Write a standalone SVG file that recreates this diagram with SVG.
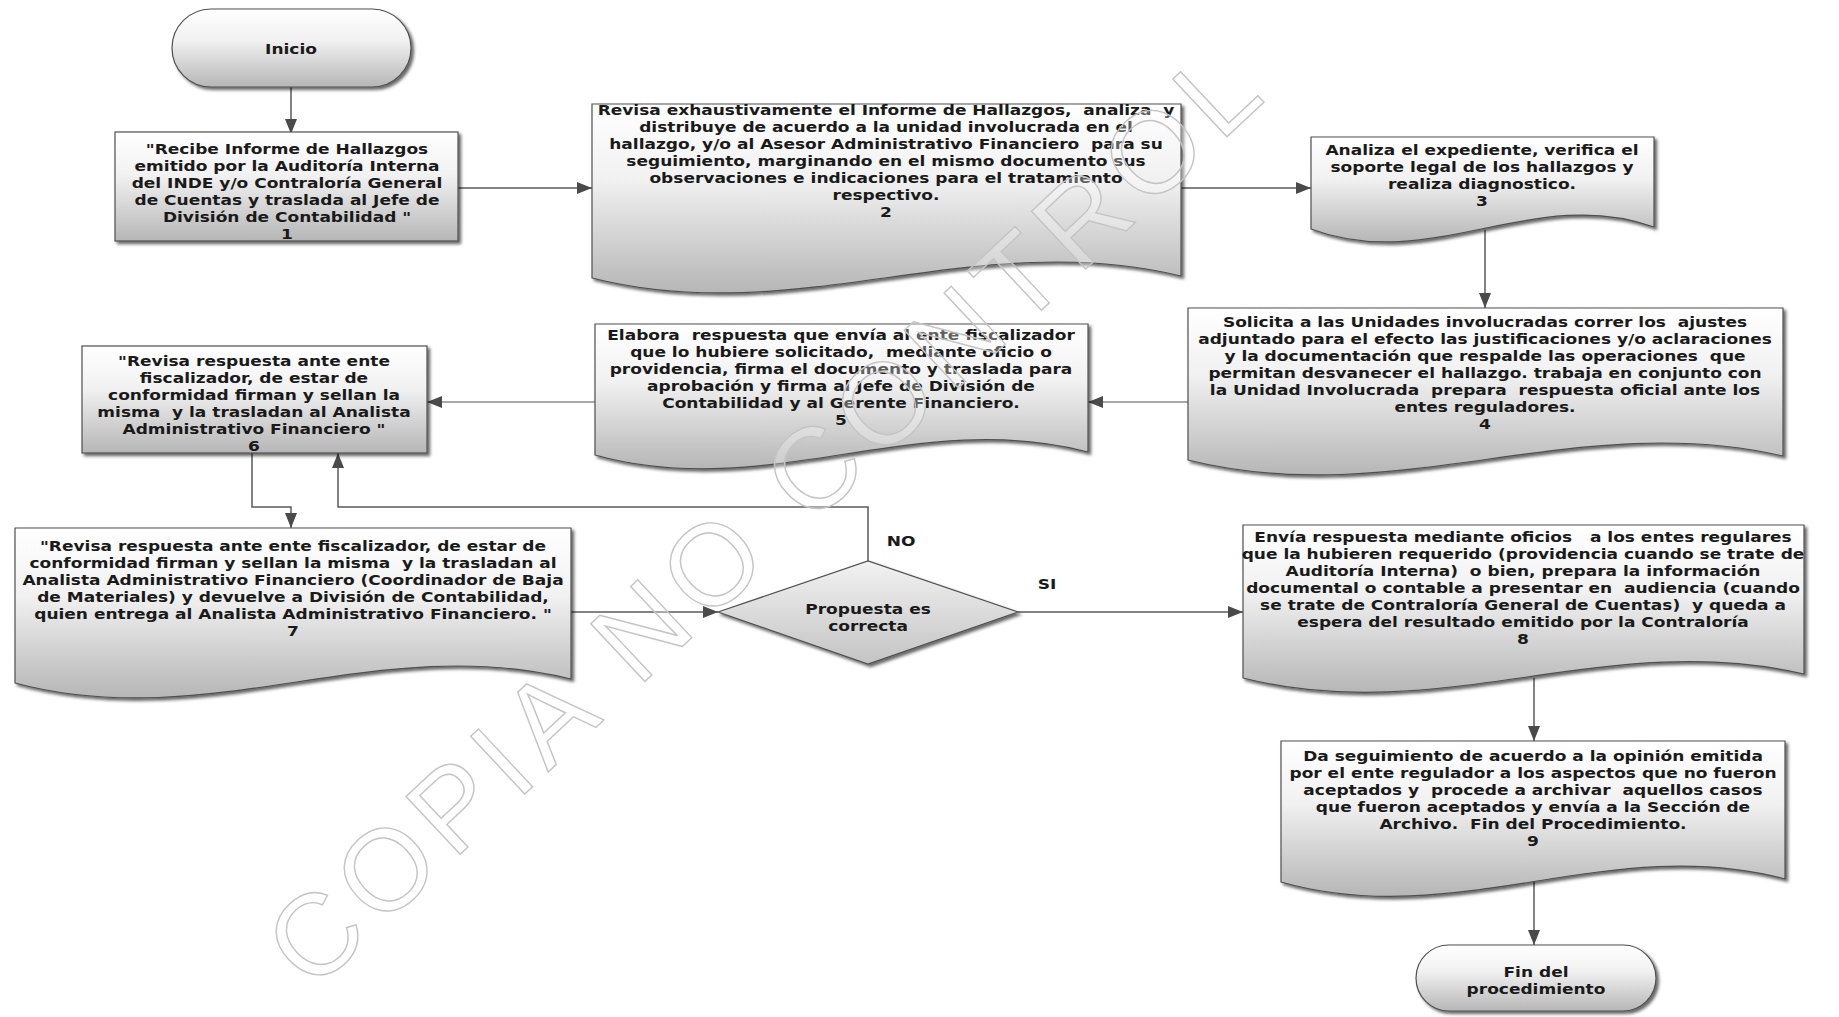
<svg xmlns="http://www.w3.org/2000/svg" width="1839" height="1017" viewBox="0 0 1839 1017">
  <defs>
    <linearGradient id="gBox" x1="0" y1="0" x2="0" y2="1">
      <stop offset="0" stop-color="#ffffff"/>
      <stop offset="0.4" stop-color="#f1f1f1"/>
      <stop offset="1" stop-color="#b6b6b6"/>
    </linearGradient>
    <linearGradient id="gDiamond" x1="0" y1="0" x2="0" y2="1">
      <stop offset="0" stop-color="#f2f2f2"/>
      <stop offset="1" stop-color="#c4c4c4"/>
    </linearGradient>
    <filter id="shadow" x="-5%" y="-5%" width="115%" height="125%">
      <feDropShadow dx="2.5" dy="2.5" stdDeviation="1.4" flood-color="#000" flood-opacity="0.6"/>
    </filter>
    <marker id="arrow" viewBox="0 0 15 12" refX="15" refY="6" markerWidth="15" markerHeight="12" markerUnits="userSpaceOnUse" orient="auto">
      <path d="M0,0 L15,6 L0,12 Z" fill="#4a4a4a"/>
    </marker>
    <style>
      .shape { fill: url(#gBox); stroke: #505050; stroke-width: 1.2; filter: url(#shadow); }
      .diamond { fill: url(#gDiamond); stroke: #505050; stroke-width: 1.2; filter: url(#shadow); }
      .t { font-family: "DejaVu Sans", "Open Sans", sans-serif; font-weight: 700; font-size: 14.3px; fill: #1a1a1a; text-anchor: middle; white-space: pre; }
      .conn { fill: none; stroke: #5a5a5a; stroke-width: 1.5; marker-end: url(#arrow); }
      .conn.light { stroke: #8c8c8c; stroke-width: 1.3; }
      .wm { font-family: "Liberation Sans", Arial, sans-serif; font-size: 115px; letter-spacing: 10.5px; fill: #ffffff; fill-opacity: 0.3; stroke: #c4c4c4; stroke-width: 1.4; }
    </style>
  </defs>

  <!-- connectors -->
  <g id="connectors">
    <path class="conn" d="M291,87 V134"/>
    <path class="conn" d="M458,188 H592"/>
    <path class="conn" d="M1181,188 H1311"/>
    <path class="conn" d="M1485,230 V308"/>
    <path class="conn light" d="M1188,402 H1088"/>
    <path class="conn light" d="M595,402 H427"/>
    <path class="conn" d="M252,453 V507 H291 V528"/>
    <path class="conn" d="M571,612 H718"/>
    <path class="conn" d="M868,561 V507 H338 V453"/>
    <path class="conn" d="M1018,612 H1243"/>
    <path class="conn" d="M1534,678 V741"/>
    <path class="conn" d="M1534,882 V945"/>
    <text class="t" transform="matrix(1.19 0 0 1 901 0)"><tspan x="0" y="546">NO</tspan></text>
    <text class="t" transform="matrix(1.19 0 0 1 1047 0)"><tspan x="0" y="589">SI</tspan></text>
  </g>

  <!-- start terminator -->
  <g id="inicio">
    <rect class="shape" x="172" y="9" width="239" height="78" rx="39" ry="39"/>
    <text class="t" transform="matrix(1.19 0 0 1 291 0)"><tspan x="0" y="54">Inicio</tspan></text>
  </g>

  <!-- step 1 -->
  <g id="step1">
    <rect class="shape" x="115" y="132" width="343" height="109"/>
    <text class="t" transform="matrix(1.19 0 0 1 287 0)"><tspan x="0" y="154">"Recibe Informe de Hallazgos</tspan><tspan x="0" y="171">emitido por la Auditoría Interna</tspan><tspan x="0" y="188">del INDE y/o Contraloría General</tspan><tspan x="0" y="205">de Cuentas y traslada al Jefe de</tspan><tspan x="0" y="222">División de Contabilidad "</tspan><tspan x="0" y="239">1</tspan></text>
  </g>

  <!-- step 2 -->
  <g id="step2">
    <path class="shape" d="M592,104 H1181 V276 C975,226 798,330 592,278 Z"/>
    <text class="t" transform="matrix(1.19 0 0 1 886 0)"><tspan x="0" y="115">Revisa exhaustivamente el Informe de Hallazgos,  analiza  y</tspan><tspan x="0" y="132">distribuye de acuerdo a la unidad involucrada en el</tspan><tspan x="0" y="149">hallazgo, y/o al Asesor Administrativo Financiero  para su</tspan><tspan x="0" y="166">seguimiento, marginando en el mismo documento sus</tspan><tspan x="0" y="183">observaciones e indicaciones para el tratamiento</tspan><tspan x="0" y="200">respectivo.</tspan><tspan x="0" y="217">2</tspan></text>
  </g>

  <!-- step 3 -->
  <g id="step3">
    <path class="shape" d="M1311,137 H1654 V227 C1534,184 1431,274 1311,229 Z"/>
    <text class="t" transform="matrix(1.19 0 0 1 1482 0)"><tspan x="0" y="155">Analiza el expediente, verifica el</tspan><tspan x="0" y="172">soporte legal de los hallazgos y</tspan><tspan x="0" y="189">realiza diagnostico.</tspan><tspan x="0" y="206">3</tspan></text>
  </g>

  <!-- step 4 -->
  <g id="step4">
    <path class="shape" d="M1188,308 H1783 V456 C1575,408 1396,512 1188,460 Z"/>
    <text class="t" transform="matrix(1.19 0 0 1 1485 0)"><tspan x="0" y="327">Solicita a las Unidades involucradas correr los  ajustes</tspan><tspan x="0" y="344">adjuntado para el efecto las justificaciones y/o aclaraciones</tspan><tspan x="0" y="361">y la documentación que respalde las operaciones  que</tspan><tspan x="0" y="378">permitan desvanecer el hallazgo. trabaja en conjunto con</tspan><tspan x="0" y="395">la Unidad Involucrada  prepara  respuesta oficial ante los</tspan><tspan x="0" y="412">entes reguladores.</tspan><tspan x="0" y="429">4</tspan></text>
  </g>

  <!-- step 5 -->
  <g id="step5">
    <path class="shape" d="M595,324 H1088 V452 C915,407 768,503 595,455 Z"/>
    <text class="t" transform="matrix(1.19 0 0 1 841 0)"><tspan x="0" y="340">Elabora  respuesta que envía al ente fiscalizador</tspan><tspan x="0" y="357">que lo hubiere solicitado,  mediante oficio o</tspan><tspan x="0" y="374">providencia, firma el documento y traslada para</tspan><tspan x="0" y="391">aprobación y firma al Jefe de División de</tspan><tspan x="0" y="408">Contabilidad y al Gerente Financiero.</tspan><tspan x="0" y="425">5</tspan></text>
  </g>

  <!-- step 6 -->
  <g id="step6">
    <rect class="shape" x="82" y="346" width="345" height="107"/>
    <text class="t" transform="matrix(1.19 0 0 1 254 0)"><tspan x="0" y="366">"Revisa respuesta ante ente</tspan><tspan x="0" y="383">fiscalizador, de estar de</tspan><tspan x="0" y="400">conformidad firman y sellan la</tspan><tspan x="0" y="417">misma  y la trasladan al Analista</tspan><tspan x="0" y="434">Administrativo Financiero "</tspan><tspan x="0" y="451">6</tspan></text>
  </g>

  <!-- step 7 -->
  <g id="step7">
    <path class="shape" d="M15,528 H571 V679 C376,631 210,735 15,683 Z"/>
    <text class="t" transform="matrix(1.19 0 0 1 293 0)"><tspan x="0" y="551">"Revisa respuesta ante ente fiscalizador, de estar de</tspan><tspan x="0" y="568">conformidad firman y sellan la misma  y la trasladan al</tspan><tspan x="0" y="585">Analista Administrativo Financiero (Coordinador de Baja</tspan><tspan x="0" y="602">de Materiales) y devuelve a División de Contabilidad,</tspan><tspan x="0" y="619">quien entrega al Analista Administrativo Financiero. "</tspan><tspan x="0" y="636">7</tspan></text>
  </g>

  <!-- decision -->
  <g id="decision">
    <polygon class="diamond" points="718,612 868,561 1018,612 868,664"/>
    <text class="t" transform="matrix(1.19 0 0 1 868 0)"><tspan x="0" y="614">Propuesta es</tspan><tspan x="0" y="631">correcta</tspan></text>
  </g>

  <!-- step 8 -->
  <g id="step8">
    <path class="shape" d="M1243,525 H1804 V674 C1608,628 1439,728 1243,678 Z"/>
    <text class="t" transform="matrix(1.19 0 0 1 1523 0)"><tspan x="0" y="542">Envía respuesta mediante oficios   a los entes regulares</tspan><tspan x="0" y="559">que la hubieren requerido (providencia cuando se trate de</tspan><tspan x="0" y="576">Auditoría Interna)  o bien, prepara la información</tspan><tspan x="0" y="593">documental o contable a presentar en  audiencia (cuando</tspan><tspan x="0" y="610">se trate de Contraloría General de Cuentas)  y queda a</tspan><tspan x="0" y="627">espera del resultado emitido por la Contraloría</tspan><tspan x="0" y="644">8</tspan></text>
  </g>

  <!-- step 9 -->
  <g id="step9">
    <path class="shape" d="M1281,741 H1785 V879 C1609,832 1457,932 1281,882 Z"/>
    <text class="t" transform="matrix(1.19 0 0 1 1533 0)"><tspan x="0" y="761">Da seguimiento de acuerdo a la opinión emitida</tspan><tspan x="0" y="778">por el ente regulador a los aspectos que no fueron</tspan><tspan x="0" y="795">aceptados y  procede a archivar  aquellos casos</tspan><tspan x="0" y="812">que fueron aceptados y envía a la Sección de</tspan><tspan x="0" y="829">Archivo.  Fin del Procedimiento.</tspan><tspan x="0" y="846">9</tspan></text>
  </g>

  <!-- end terminator -->
  <g id="fin">
    <rect class="shape" x="1416" y="945" width="240" height="66" rx="33" ry="33"/>
    <text class="t" transform="matrix(1.19 0 0 1 1536 0)"><tspan x="0" y="977">Fin del</tspan><tspan x="0" y="994">procedimiento</tspan></text>
  </g>

  <!-- watermark -->
  <text class="wm" transform="translate(312,993) rotate(-43.1)" x="0" y="0">COPIA NO CONTROL</text>
</svg>
